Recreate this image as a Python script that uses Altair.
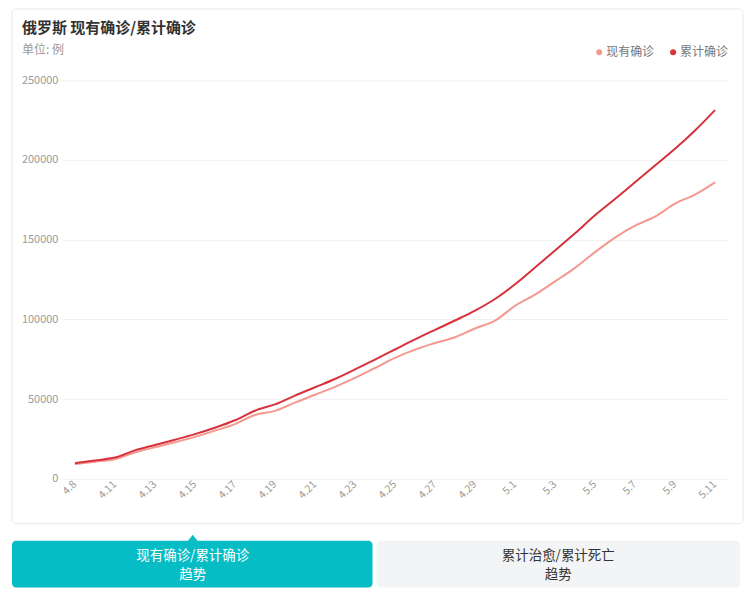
import altair as alt
import pandas as pd

FONT = "Noto Sans CJK SC"

# ---- data ----
dates = ["4.8", "4.10", "4.11", "4.12", "4.13", "4.14", "4.15", "4.16", "4.17", "4.18",
         "4.19", "4.20", "4.21", "4.22", "4.23", "4.24", "4.25", "4.26", "4.27", "4.28",
         "4.29", "4.30", "5.1", "5.2", "5.3", "5.4", "5.5", "5.6", "5.7", "5.8",
         "5.9", "5.10", "5.11"]
series_names = ["现有确诊", "累计确诊"]
current = [9200, 10700, 12300, 16400, 19800, 22900, 26300, 30200, 34300, 40000,
           42600, 47800, 52700, 57700, 63300, 69500, 75800, 81000, 85200, 88800,
           94300, 99200, 108500, 115500, 123800, 132300, 142200, 151300, 158800, 164400,
           172600, 178300, 186000]
cumulative = [9800, 11500, 13300, 17800, 21200, 24500, 28000, 32000, 36700, 42700,
              46700, 52200, 57400, 62600, 68600, 74800, 81100, 87400, 93400, 99300,
              105500, 112800, 122000, 132500, 143200, 154000, 165300, 175500, 186000, 196500,
              207000, 218500, 231300]
y_ticks = [0, 50000, 100000, 150000, 200000, 250000]
x_ticks = dates[::2]
colors = ["#f4998f", "#d7313b"]

title_text = "俄罗斯 现有确诊/累计确诊"
unit_text = "单位: 例"
tab1_lines = ["现有确诊/累计确诊", "趋势"]
tab2_lines = ["累计治愈/累计死亡", "趋势"]

rows = []
for name, vals in zip(series_names, [current, cumulative]):
    for d, v in zip(dates, vals):
        rows.append({"date": d, "series": name, "value": v})
df = pd.DataFrame(rows)


def one():
    return alt.Chart(pd.DataFrame({"k": [0]}))


card = one().mark_rect(fillOpacity=0, stroke="#e9e9e9", strokeWidth=1, cornerRadius=4).encode(
    x=alt.value(-51), x2=alt.value(681), y=alt.value(-71.5), y2=alt.value(444))

lines = alt.Chart(df).mark_line(interpolate="monotone", strokeWidth=2).encode(
    x=alt.X("date:N", sort=dates, title=None,
            scale=alt.Scale(type="point", padding=0.6),
            axis=alt.Axis(values=x_ticks, labelAngle=-45, labelColor="#9a9a9a",
                          labelFont=FONT, labelFontSize=10.5, ticks=False, domain=False,
                          grid=False, labelPadding=0, labelOffset=-4)),
    y=alt.Y("value:Q", title=None,
            scale=alt.Scale(domain=[0, 250000], nice=False),
            axis=alt.Axis(values=y_ticks, format="d", labelColor="#9a9a9a", labelFont=FONT,
                          labelFontSize=11, ticks=False, domain=False, grid=True,
                          gridColor="#f1f1f1", labelPadding=5)),
    color=alt.Color("series:N", scale=alt.Scale(domain=series_names, range=colors), legend=None),
    detail="series:N",
)

title_t = one().mark_text(text=title_text, align="left", baseline="middle", fontSize=15,
                          fontWeight="bold", color="#333333", font=FONT).encode(
    x=alt.value(-41), y=alt.value(-52))
unit_t = one().mark_text(text=unit_text, align="left", baseline="middle", fontSize=12,
                         color="#999999", font=FONT).encode(x=alt.value(-41), y=alt.value(-30))

leg_layers = []
for name, col, dx in zip(series_names, colors, [537, 611]):
    leg_layers.append(one().mark_point(filled=True, shape="circle", size=36, color=col, opacity=1).encode(
        x=alt.value(dx), y=alt.value(-28)))
    leg_layers.append(one().mark_text(text=name, align="left", baseline="middle", fontSize=12,
                                      color="#777777", font=FONT).encode(
        x=alt.value(dx + 7), y=alt.value(-28)))

tab1 = one().mark_rect(fill="#06bdc6", cornerRadius=4).encode(
    x=alt.value(-51), x2=alt.value(310), y=alt.value(461), y2=alt.value(508))
tab2 = one().mark_rect(fill="#f3f4f6", cornerRadius=4).encode(
    x=alt.value(314), x2=alt.value(678), y=alt.value(461), y2=alt.value(508))
pointer = one().mark_point(filled=True, shape="M-1,1.3L0,0L1,1.3Z", size=144, color="#06bdc6", opacity=1).encode(
    x=alt.value(130), y=alt.value(455))

tab_texts = []
for lines_txt, cx, col in [(tab1_lines, 130, "#ffffff"), (tab2_lines, 496, "#333333")]:
    for txt, yy in zip(lines_txt, [476, 495]):
        tab_texts.append(one().mark_text(text=txt, align="center", baseline="middle", fontSize=13.5,
                                         color=col, font=FONT).encode(x=alt.value(cx), y=alt.value(yy)))

chart = alt.layer(card, lines, title_t, unit_t, *leg_layers, tab1, tab2, pointer, *tab_texts).properties(
    width=665, height=399,
    padding={"left": 55, "top": 72, "right": 20, "bottom": 120},
    autosize=alt.AutoSizeParams(type="none"),
    background="white",
).configure_view(strokeWidth=0)

chart.save("out.html", embed_options={"renderer": "svg", "actions": False})
